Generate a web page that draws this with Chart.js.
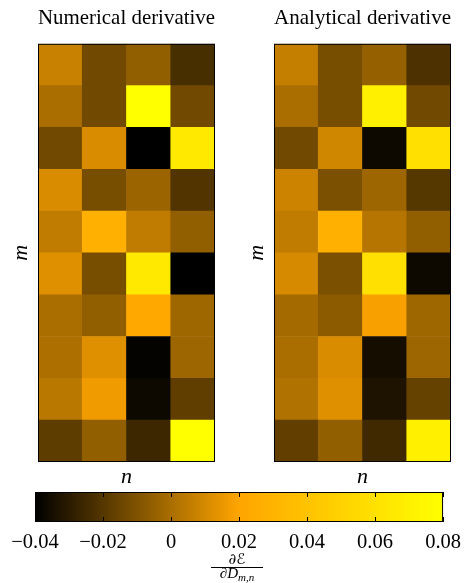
<!DOCTYPE html>
<html>
<head>
<meta charset="utf-8">
<script src="https://cdn.jsdelivr.net/npm/chart.js@4"></script>
<style>
    body { margin: 0; background: #fff; }
    #wrap { position: relative; width: 469px; height: 583px; overflow: hidden; }
    canvas { position: absolute; }
</style>
</head>
<body>
<div id="wrap">
    <canvas id="numChart" width="233" height="490" style="left:0;top:0"></canvas>
    <canvas id="anaChart" width="233" height="490" style="left:236px;top:0"></canvas>
    <canvas id="barChart" width="469" height="103" style="left:0;top:480px"></canvas>
</div>

<script>
    // columns n, rows m (row 1 at the top)
    const columnLabels = ['1', '2', '3', '4'];
    const rowLabels = ['1', '2', '3', '4', '5', '6', '7', '8', '9', '10'];

    const numericalValues = [
        [0.007, -0.0135, -0.006, -0.023],
        [0.0, -0.0135, 0.08, -0.0135],
        [-0.0135, 0.011, -0.04, 0.065],
        [0.011, -0.012, -0.0035, -0.021],
        [0.005, 0.027, 0.005, -0.006],
        [0.0125, -0.012, 0.065, -0.04],
        [0.0, -0.006, 0.022, -0.0025],
        [0.0005, 0.0125, -0.039, -0.003],
        [0.0035, 0.0165, -0.037, -0.0175],
        [-0.018, -0.006, -0.026, 0.08]
    ];

    const analyticalValues = [
        [0.006, -0.012, -0.005, -0.022],
        [0.0, -0.012, 0.07, -0.0135],
        [-0.0135, 0.009, -0.037, 0.059],
        [0.008, -0.011, -0.003, -0.020],
        [0.005, 0.027, 0.0025, -0.006],
        [0.010, -0.011, 0.059, -0.037],
        [-0.0015, -0.007, 0.018, -0.0025],
        [0.0, 0.011, -0.035, -0.003],
        [0.0015, 0.0125, -0.033, -0.016],
        [-0.017, -0.006, -0.025, 0.07]
    ];

    const colorMin = -0.04;
    const colorMax = 0.08;
    const colorbarTicks = [-0.04, -0.02, 0, 0.02, 0.04, 0.06, 0.08];

    const panelTitles = ['Numerical derivative', 'Analytical derivative'];
    const xTitle = 'n';
    const yTitle = 'm';
    const fracTop = '∂ℰ';
    const fracBottom = '∂D';
    const fracSub = 'm,n';

    Chart.defaults.font.family = '"Liberation Serif", "DejaVu Serif", serif';
    Chart.defaults.color = '#000';

    // black -> orange -> yellow
    const cellColor = (v) => {
        const t = Math.min(1, Math.max(0, (v - colorMin) / (colorMax - colorMin)));
        if (t <= 0.5) {
            const s = t / 0.5;
            return `rgb(${Math.round(255 * s)}, ${Math.round(165 * s)}, 0)`;
        }
        const s = (t - 0.5) / 0.5;
        return `rgb(255, ${Math.round(165 + 90 * s)}, 0)`;
    };

    const framePlugin = {
        id: 'frame',
        afterDatasetsDraw(chart) {
            const {ctx, chartArea} = chart;
            ctx.save();
            ctx.strokeStyle = '#000';
            ctx.lineWidth = 1;
            ctx.strokeRect(chartArea.left + 0.5, chartArea.top + 0.5,
                chartArea.right - chartArea.left - 1, chartArea.bottom - chartArea.top - 1);
            ctx.restore();
        }
    };

    const heatmapDatasets = (values) => values.map((row, i) => ({
        label: 'm = ' + rowLabels[i],
        data: row.map(() => 1),
        backgroundColor: row.map(cellColor),
        borderWidth: 0,
        barPercentage: 1,
        categoryPercentage: 1
    })).reverse();

    const makeHeatmap = (canvasId, title, values) => new Chart(document.getElementById(canvasId), {
        type: 'bar',
        data: {
            labels: columnLabels,
            datasets: heatmapDatasets(values)
        },
        options: {
            responsive: false,
            animation: false,
            layout: { padding: { left: 0, right: 18, top: 0, bottom: 0 } },
            plugins: {
                legend: { display: false },
                tooltip: { enabled: false },
                title: {
                    display: true,
                    text: title,
                    fullSize: false,
                    color: '#000',
                    font: { size: 21.5, weight: 'normal', lineHeight: 1.2 },
                    padding: { top: 5, bottom: 13 }
                }
            },
            scales: {
                x: {
                    stacked: true,
                    grid: { display: false, drawTicks: false },
                    border: { display: false },
                    ticks: { display: false },
                    title: {
                        display: true,
                        text: xTitle,
                        color: '#000',
                        font: { size: 22, style: 'italic' },
                        padding: { top: 0, bottom: 0 }
                    },
                    afterFit: (s) => { s.height = 28; }
                },
                y: {
                    stacked: true,
                    min: 0,
                    max: 10,
                    grid: { display: false, drawTicks: false },
                    border: { display: false },
                    ticks: { display: false },
                    title: {
                        display: true,
                        text: yTitle,
                        color: '#000',
                        font: { size: 22, style: 'italic' },
                        padding: { top: 8, bottom: 0 }
                    },
                    afterFit: (s) => { s.width = 38; }
                }
            }
        },
        plugins: [framePlugin]
    });

    makeHeatmap('numChart', panelTitles[0], numericalValues);
    makeHeatmap('anaChart', panelTitles[1], analyticalValues);

    const colorbarGradient = (chart) => {
        const xs = chart.scales.x;
        if (!chart.chartArea || !xs) return 'rgb(255,165,0)';
        const g = chart.ctx.createLinearGradient(xs.getPixelForValue(colorMin), 0, xs.getPixelForValue(colorMax), 0);
        g.addColorStop(0, 'rgb(0,0,0)');
        g.addColorStop(0.5, 'rgb(255,165,0)');
        g.addColorStop(1, 'rgb(255,255,0)');
        return g;
    };

    const colorbarPlugin = {
        id: 'colorbarDecor',
        afterDatasetsDraw(chart) {
            const {ctx, chartArea} = chart;
            const xs = chart.scales.x;
            ctx.save();
            ctx.strokeStyle = '#000';
            ctx.lineWidth = 1;
            colorbarTicks.forEach((v) => {
                const x = Math.round(xs.getPixelForValue(v)) + 0.5;
                ctx.beginPath();
                ctx.moveTo(x, chartArea.top);
                ctx.lineTo(x, chartArea.top + 5);
                ctx.moveTo(x, chartArea.bottom);
                ctx.lineTo(x, chartArea.bottom - 5);
                ctx.stroke();
            });
            ctx.strokeRect(chartArea.left + 0.5, chartArea.top + 0.5,
                chartArea.right - chartArea.left - 1, chartArea.bottom - chartArea.top - 1);

            // fraction label
            const cx = (chartArea.left + chartArea.right) / 2 - 2;
            ctx.fillStyle = '#000';
            ctx.textBaseline = 'alphabetic';
            ctx.textAlign = 'center';
            ctx.font = 'italic 15px "DejaVu Serif", "DejaVu Sans", serif';
            ctx.fillText(fracTop, cx, 84);
            ctx.beginPath();
            ctx.moveTo(cx - 26, 87.5);
            ctx.lineTo(cx + 26, 87.5);
            ctx.stroke();
            const topFont = 'italic 15px "Liberation Serif", "DejaVu Serif", serif';
            const subFont = 'italic 11px "Liberation Serif", "DejaVu Serif", serif';
            ctx.font = topFont;
            const w1 = ctx.measureText(fracBottom).width;
            ctx.font = subFont;
            const w2 = ctx.measureText(fracSub).width;
            const start = cx - (w1 + w2) / 2;
            ctx.textAlign = 'left';
            ctx.font = topFont;
            ctx.fillText(fracBottom, start, 98);
            ctx.font = subFont;
            ctx.fillText(fracSub, start + w1, 101);
            ctx.restore();
        }
    };

    new Chart(document.getElementById('barChart'), {
        type: 'bar',
        data: {
            labels: [''],
            datasets: [{
                data: [[colorMin, colorMax]],
                backgroundColor: (c) => colorbarGradient(c.chart),
                borderWidth: 0,
                barPercentage: 1,
                categoryPercentage: 1
            }]
        },
        options: {
            indexAxis: 'y',
            responsive: false,
            animation: false,
            layout: { padding: { left: 35, right: 18, top: 12, bottom: 0 } },
            plugins: {
                legend: { display: false },
                tooltip: { enabled: false }
            },
            scales: {
                x: {
                    min: colorMin,
                    max: colorMax,
                    afterBuildTicks: (s) => { s.ticks = colorbarTicks.map((v) => ({ value: v })); },
                    grid: { display: false, drawTicks: false },
                    border: { display: false },
                    ticks: {
                        autoSkip: false,
                        maxRotation: 0,
                        padding: 8,
                        color: '#000',
                        font: { size: 20.5 },
                        callback: (v) => Math.abs(v) < 1e-9 ? '0' : (v < 0 ? '\u2212' : '') + Math.abs(v).toFixed(2)
                    },
                    afterFit: (s) => { s.height = 61; }
                },
                y: { display: false }
            }
        },
        plugins: [colorbarPlugin]
    });
</script>
</body>
</html>
